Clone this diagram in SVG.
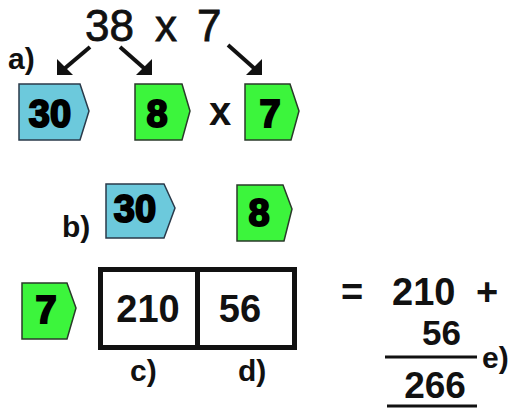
<svg xmlns="http://www.w3.org/2000/svg" width="515" height="408" viewBox="0 0 515 408">
  <style>
    .tag-blue { fill: #6cc9dc; stroke: #2a3a4a; stroke-width: 1.5; }
    .tag-green { fill: #3cf53c; stroke: #2a3a2a; stroke-width: 1.5; }
    .num { font-family: "Liberation Sans", Arial, sans-serif; font-weight: bold; font-size: 38px; fill: #000; stroke: #000; stroke-width: 2; text-anchor: middle; }
    .lbl { font-family: "Liberation Sans", Arial, sans-serif; font-weight: bold; font-size: 30px; fill: #111; }
    .big { font-family: "Liberation Sans", Arial, sans-serif; font-size: 44px; fill: #111; stroke: #111; stroke-width: 0.8; }
    .calc { font-family: "Liberation Sans", Arial, sans-serif; font-weight: bold; fill: #111; }
    .arrow { stroke: #111; stroke-width: 4; fill: none; }
    .head { fill: #111; }
    .rule { stroke: #111; stroke-width: 3; }
  </style>

  <!-- the product to be split -->
  <g id="product">
    <text class="big" x="85" y="41">38</text>
    <text class="big" x="155" y="41">x</text>
    <text class="big" x="197" y="41">7</text>
  </g>

  <!-- arrows from the product to the parts -->
  <g id="connectors">
    <line class="arrow" x1="90" y1="47" x2="64" y2="69"/>
    <polygon class="head" points="57,75 57,59 73,75"/>
    <line class="arrow" x1="120" y1="47" x2="145" y2="69"/>
    <polygon class="head" points="152,75 152,59 136,75"/>
    <line class="arrow" x1="228" y1="45" x2="255" y2="69"/>
    <polygon class="head" points="262,75 262,59 246,75"/>
  </g>

  <text class="lbl" x="8" y="69">a)</text>

  <!-- step a: 30, 8 x 7 -->
  <g id="a-30" transform="translate(19,84)">
    <polygon class="tag-blue" points="0,0 61,0 70,27 61,56 0,56"/>
    <text class="num" x="31" y="43">30</text>
  </g>
  <g id="a-8" transform="translate(135,84)">
    <polygon class="tag-green" points="0,0 47,0 55,27 47,56 0,56"/>
    <text class="num" x="22" y="43">8</text>
  </g>
  <text class="calc" x="220" y="125" font-size="40" text-anchor="middle">x</text>
  <g id="a-7" transform="translate(245,84)">
    <polygon class="tag-green" points="0,0 45,0 54,27 46,56 0,56"/>
    <text class="num" x="25" y="43">7</text>
  </g>

  <!-- step b: the tens and units as column headings -->
  <text class="lbl" x="62" y="237">b)</text>
  <g id="b-30" transform="translate(106,184)">
    <polygon class="tag-blue" points="0,0 58,0 69,24 58,54 0,54"/>
    <text class="num" x="29" y="38">30</text>
  </g>
  <g id="b-8" transform="translate(237,185)">
    <polygon class="tag-green" points="0,0 46,0 55,24 47,56 0,56"/>
    <text class="num" x="22" y="41">8</text>
  </g>

  <!-- row heading -->
  <g id="c-7" transform="translate(22,283)">
    <polygon class="tag-green" points="0,0 45,0 54,25 45,56 0,56"/>
    <text class="num" x="24" y="40">7</text>
  </g>

  <!-- grid with the partial products -->
  <g id="grid">
    <rect x="100.5" y="269.5" width="194" height="78" fill="#fff" stroke="#111" stroke-width="5"/>
    <line x1="197.5" y1="269.5" x2="197.5" y2="347.5" stroke="#111" stroke-width="5"/>
    <text class="calc" x="148" y="322" font-size="38" text-anchor="middle">210</text>
    <text class="calc" x="240" y="322" font-size="38" text-anchor="middle">56</text>
  </g>
  <text class="lbl" x="130" y="381">c)</text>
  <text class="lbl" x="238" y="381">d)</text>

  <!-- step e: adding the partial products -->
  <g id="sum">
    <text class="calc" x="341" y="305" font-size="38">=</text>
    <text class="calc" x="392" y="305" font-size="38">210</text>
    <text class="calc" x="476" y="305" font-size="38">+</text>
    <text class="calc" x="461" y="345" font-size="35" text-anchor="end">56</text>
    <line class="rule" x1="385" y1="357" x2="477" y2="357"/>
    <text class="calc" x="435" y="398" font-size="37" text-anchor="middle">266</text>
    <line class="rule" x1="387" y1="406" x2="477" y2="406"/>
  </g>
  <text class="lbl" x="482" y="368" font-size="31">e)</text>
</svg>
